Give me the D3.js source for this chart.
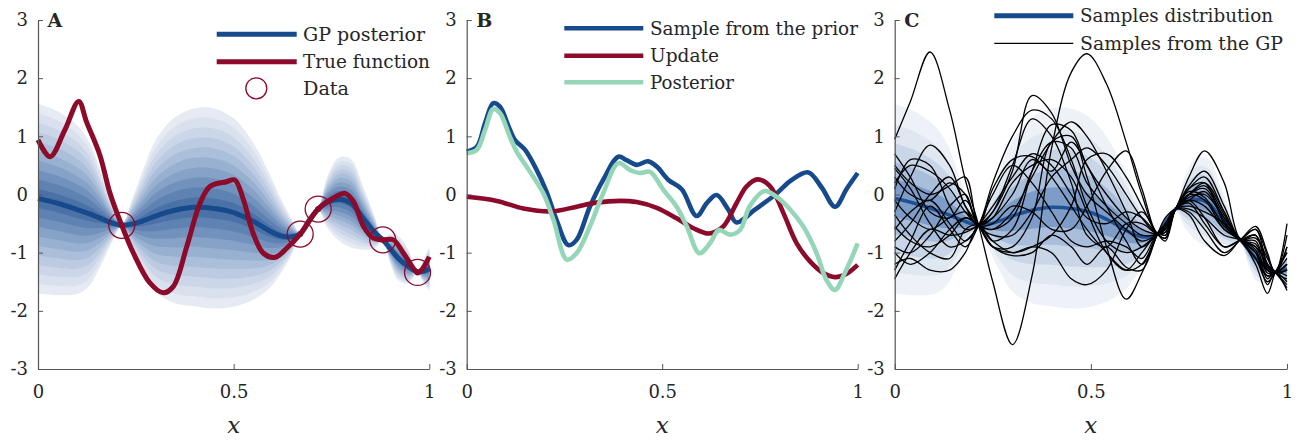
<!DOCTYPE html>
<html><head><meta charset="utf-8">
<script src="https://cdn.jsdelivr.net/npm/d3@7"></script>
<style>
body{margin:0;background:#fff}
svg{display:block}
svg text{font-family:"DejaVu Serif";}
</style>
</head><body>
<svg id="chart" width="1306" height="443"></svg>
<script>
// ---------------- DATA ----------------
const xTicks = [0, 0.5, 1];
const yTicks = [-3, -2, -1, 0, 1, 2, 3];
const panelLetters = ["A", "B", "C"];

// GP posterior (panels A and C)
const postX = [0, 0.05, 0.1, 0.13, 0.16, 0.19, 0.214, 0.24, 0.27, 0.3, 0.35, 0.4, 0.45, 0.5, 0.55, 0.59, 0.62, 0.645, 0.67, 0.69, 0.716, 0.74, 0.77, 0.8, 0.83, 0.86, 0.881, 0.9, 0.92, 0.945, 0.97, 0.985, 1.0];
const postMean = [-0.07, -0.15, -0.26, -0.33, -0.41, -0.49, -0.53, -0.51, -0.45, -0.37, -0.27, -0.22, -0.24, -0.31, -0.46, -0.62, -0.71, -0.73, -0.68, -0.48, -0.25, -0.13, -0.08, -0.15, -0.40, -0.65, -0.78, -0.93, -1.09, -1.23, -1.33, -1.32, -1.28];
const postSpread = [1.63, 1.58, 1.45, 1.25, 0.82, 0.32, 0.02, 0.42, 0.9, 1.3, 1.6, 1.7, 1.72, 1.62, 1.35, 1.0, 0.65, 0.35, 0.02, 0.12, 0.02, 0.45, 0.72, 0.76, 0.55, 0.28, 0.02, 0.25, 0.38, 0.3, 0.02, 0.2, 0.38];

// True function (panel A)
const trueX = [0, 0.031, 0.068, 0.104, 0.124, 0.158, 0.184, 0.214, 0.244, 0.286, 0.32, 0.346, 0.38, 0.414, 0.44, 0.482, 0.503, 0.525, 0.55, 0.576, 0.606, 0.636, 0.67, 0.716, 0.755, 0.785, 0.806, 0.832, 0.857, 0.881, 0.908, 0.934, 0.97, 0.98, 1.0];
const trueY = [0.94, 0.65, 1.1, 1.6, 1.25, 0.68, 0.02, -0.53, -1.01, -1.52, -1.69, -1.58, -0.9, -0.15, 0.14, 0.22, 0.25, -0.09, -0.67, -1.01, -1.08, -0.92, -0.68, -0.25, -0.06, 0.02, -0.12, -0.55, -0.75, -0.78, -0.78, -1.01, -1.34, -1.3, -1.07];

// Observations
const dataX = [0.214, 0.670, 0.716, 0.881, 0.970];
const dataY = [-0.53, -0.68, -0.25, -0.78, -1.34];

// Panel B
const priorX = [0, 0.026, 0.047, 0.068, 0.085, 0.107, 0.123, 0.149, 0.179, 0.204, 0.23, 0.26, 0.281, 0.315, 0.349, 0.388, 0.409, 0.435, 0.464, 0.486, 0.516, 0.55, 0.588, 0.614, 0.639, 0.669, 0.69, 0.737, 0.788, 0.831, 0.874, 0.908, 0.942, 0.972, 1.0];
const priorY = [0.74, 0.82, 1.23, 1.57, 1.51, 1.17, 0.94, 0.77, 0.42, 0.05, -0.44, -0.87, -0.78, -0.21, 0.25, 0.65, 0.59, 0.51, 0.57, 0.48, 0.25, 0.09, -0.37, -0.15, -0.01, -0.26, -0.48, -0.26, -0.01, 0.25, 0.38, 0.12, -0.21, 0.10, 0.37];
const updateX = [0, 0.077, 0.145, 0.217, 0.281, 0.332, 0.392, 0.435, 0.486, 0.537, 0.58, 0.62, 0.656, 0.69, 0.716, 0.744, 0.776, 0.81, 0.844, 0.878, 0.912, 0.942, 0.972, 1.0];
const updateY = [-0.04, -0.11, -0.24, -0.29, -0.21, -0.14, -0.11, -0.13, -0.23, -0.41, -0.58, -0.67, -0.55, -0.15, 0.14, 0.26, 0.14, -0.32, -0.84, -1.15, -1.35, -1.42, -1.36, -1.21];
const posteriorX = [0, 0.026, 0.047, 0.068, 0.085, 0.11, 0.13, 0.153, 0.196, 0.222, 0.256, 0.281, 0.315, 0.349, 0.388, 0.418, 0.443, 0.469, 0.503, 0.537, 0.563, 0.595, 0.622, 0.645, 0.673, 0.699, 0.724, 0.762, 0.793, 0.825, 0.861, 0.895, 0.92, 0.942, 0.967, 1.0];
const posteriorY = [0.71, 0.77, 1.11, 1.47, 1.40, 1.0, 0.71, 0.48, 0.02, -0.44, -1.12, -1.01, -0.55, 0.02, 0.54, 0.42, 0.37, 0.39, 0.08, -0.21, -0.55, -1.01, -0.84, -0.61, -0.69, -0.61, -0.2, 0.06, -0.04, -0.24, -0.55, -1.01, -1.47, -1.64, -1.35, -0.84];

// Panel C: samples from the GP posterior
const sampleX = [0, 0.04, 0.09, 0.14, 0.18, 0.214, 0.25, 0.30, 0.35, 0.40, 0.45, 0.49, 0.54, 0.59, 0.63, 0.67, 0.69, 0.716, 0.75, 0.79, 0.84, 0.881, 0.92, 0.95, 0.97, 1.0];
const sample01 = [0.95, 1.6, 2.45, 1.45, 0.25, -0.53, -1.5, -2.58, -1.4, 0.8, 2.1, 2.42, 1.9, 0.9, 0.0, -0.68, -0.55, -0.25, 0.0, 0.2, -0.3, -0.78, -0.7, -1.3, -1.34, -0.9];
const sample02 = [-0.3, 0.3, 0.85, 0.5, -0.2, -0.53, 0.1, 0.6, 0.65, 0.3, -0.2, -0.6, -1.0, -1.3, -1.2, -0.68, -0.5, -0.25, 0.0, 0.1, -0.4, -0.78, -1.1, -1.4, -1.34, -1.5];
const sample03 = [0.45, 0.1, -0.5, -0.9, -0.8, -0.53, 0.2, 1.0, 1.45, 1.3, 0.6, -0.2, -0.8, -1.0, -0.9, -0.68, -0.6, -0.25, -0.2, -0.3, -0.5, -0.78, -1.0, -1.3, -1.34, -1.2];
const sample04 = [-1.45, -1.0, -0.6, -0.7, -0.65, -0.53, -0.3, 0.4, 1.7, 1.4, 0.5, 0.0, -0.3, -0.6, -0.8, -0.68, -0.55, -0.25, 0.3, 0.75, 0.2, -0.78, -0.9, -1.2, -1.34, -0.5];
const sample05 = [-1.2, -1.1, -1.3, -1.3, -1.0, -0.53, -0.8, -1.0, -0.9, -0.7, -0.2, 0.6, 0.7, 0.3, -0.2, -0.68, -0.8, -0.25, 0.1, 0.2, -0.5, -0.78, -0.7, -1.2, -1.34, -1.6];
const sample06 = [0.2, 0.5, 0.4, 0.1, -0.3, -0.53, -0.6, -0.3, 0.3, 0.9, 1.25, 1.0, 0.4, -0.3, -0.9, -0.68, -0.6, -0.25, -0.1, -0.4, -0.9, -0.78, -0.6, -1.2, -1.34, -0.9];
const sample07 = [-0.8, -0.5, 0.0, 0.3, -0.2, -0.53, -0.9, -0.9, -0.4, 0.9, 1.0, 0.3, -0.9, -1.8, -1.35, -0.68, -0.4, -0.25, -0.3, -0.6, -1.0, -0.78, -0.55, -1.0, -1.34, -1.3];
const sample08 = [-0.1, -0.4, -0.6, -0.4, -0.3, -0.53, -0.4, 0.2, 0.5, 0.6, 0.3, -0.3, -1.0, -1.3, -1.0, -0.68, -0.7, -0.25, 0.0, -0.1, -0.6, -0.78, -1.2, -1.7, -1.34, -1.0];
const sample09 = [0.7, 0.3, -0.3, -0.4, -0.1, -0.53, -0.9, -1.0, -0.9, -1.0, -1.45, -1.55, -1.3, -0.6, -0.3, -0.68, -0.75, -0.25, -0.1, -0.2, -0.6, -0.78, -1.0, -1.55, -1.34, -1.4];
const sample10 = [-0.55, -0.8, -0.9, -0.7, -0.4, -0.53, -0.6, -0.4, 0.4, 0.9, 0.8, 0.2, -0.2, -0.5, -0.7, -0.68, -0.6, -0.25, 0.05, -0.05, -0.55, -0.78, -0.9, -1.35, -1.34, -1.2];
const sample11 = [0.3, 0.0, -0.1, 0.2, 0.0, -0.53, -0.3, 0.5, 1.3, 1.0, 0.2, -0.7, -0.9, -0.5, -0.5, -0.68, -0.65, -0.25, 0.1, 0.3, -0.3, -0.78, -0.8, -1.3, -1.34, -0.7];
const sample12 = [-0.9, -1.0, -0.7, -0.2, 0.0, -0.53, -0.5, -0.2, -0.3, -0.6, -0.6, -0.2, 0.4, 0.75, 0.1, -0.68, -0.6, -0.25, -0.15, -0.5, -0.9, -0.78, -0.7, -1.2, -1.34, -1.55];
const sample13 = [0.1, 0.6, 0.5, -0.2, -0.6, -0.53, -0.4, 0.0, 0.6, 0.4, 0.9, 0.5, -0.2, -0.8, -1.2, -0.68, -0.55, -0.25, -0.05, 0.0, -0.4, -0.78, -1.1, -1.5, -1.34, -1.0];
const sample14 = [-1.3, -0.8, -0.2, -0.6, -0.9, -0.53, 0.0, 0.5, 0.2, -0.3, -0.8, -0.9, -0.8, -0.9, -1.1, -0.68, -0.7, -0.25, -0.25, -0.4, -0.7, -0.78, -0.95, -1.45, -1.34, -1.65];
const sample15 = [-0.35, -0.7, -1.0, -1.1, -0.6, -0.53, -0.8, -0.6, 0.4, 1.2, 1.1, 0.5, 0.0, -0.4, -0.6, -0.68, -0.65, -0.25, 0.15, 0.4, -0.2, -0.78, -0.85, -1.25, -1.34, -1.3];
const sample16 = [0.5, 0.2, 0.0, 0.15, 0.3, -0.53, -0.7, -0.7, -0.3, 0.3, 0.6, 0.8, 0.5, 0.0, -0.4, -0.68, -0.6, -0.25, -0.1, 0.05, -0.45, -0.78, -0.75, -1.1, -1.34, -1.45];
const sample17 = [-0.6, -0.3, -0.1, -0.5, -0.8, -0.53, -0.2, 0.3, 0.7, 0.5, 0.0, -0.4, -0.5, -0.3, -0.4, -0.68, -0.75, -0.25, 0.0, 0.15, -0.35, -0.78, -1.0, -1.4, -1.34, -1.1];
const sample18 = [-1.0, -1.2, -1.0, -0.6, -0.4, -0.53, -0.9, -1.05, -1.0, -0.7, -0.9, -1.2, -0.9, -1.25, -1.3, -0.68, -0.5, -0.25, -0.35, -0.8, -1.05, -0.78, -0.6, -1.05, -1.34, -1.2];
const samplesC = [sample01, sample02, sample03, sample04, sample05, sample06, sample07, sample08, sample09, sample10, sample11, sample12, sample13, sample14, sample15, sample16, sample17, sample18];

// Legend labels
const legendA = ["GP posterior", "True function", "Data"];
const legendB = ["Sample from the prior", "Update", "Posterior"];
const legendC = ["Samples distribution", "Samples from the GP"];

// ---------------- STYLE / LAYOUT ----------------
const FONT = "DejaVu Serif";
const BLUE = "#174a8c", RED = "#8c0a2a", GREEN = "#96d6b8";
const bandColorsA = ["#e6ebf3","#d9e1ee","#cbd7e8","#bccbe1","#abbfda","#99b1d1","#86a2c7","#7292bd","#5e82b2","#4b72a7"];
const bandLevelsA = [1.0, 0.9, 0.8, 0.7, 0.6, 0.5, 0.4, 0.3, 0.2, 0.1];
const bandColorsC = ["#eef2f8","#dfe7f1","#c9d6e8","#a8bedb","#7d9dc8"];
const bandLevelsC = [1.0, 0.78, 0.58, 0.38, 0.2];
const panelRanges = [[38, 429.3], [466.7, 857.7], [894.7, 1287]];
const yTop = 20, yBot = 369;

const svg = d3.select("#chart");
const y = d3.scaleLinear().domain([-3, 3]).range([yBot, yTop]);
const xs = panelRanges.map(r => d3.scaleLinear().domain([0, 1]).range(r));
const curve = d3.curveCatmullRom.alpha(0.5);

function addText(x, yy, str, size) {
  return svg.append("text").attr("x", x).attr("y", yy).attr("font-size", size)
    .attr("font-family", FONT).attr("fill", "#262626").text(str);
}

function drawAxes(i) {
  const x = xs[i];
  const g = svg.append("g");
  g.append("g").attr("transform", `translate(${panelRanges[i][0]},0)`)
    .call(d3.axisLeft(y).tickValues(yTicks).tickFormat(d => String(d)).tickSize(-5).tickSizeOuter(0).tickPadding(10));
  g.append("g").attr("transform", `translate(0,${yBot})`)
    .call(d3.axisBottom(x).tickValues(xTicks).tickFormat(d => String(d)).tickSize(-5).tickSizeOuter(0).tickPadding(16));
  g.selectAll("g").attr("font-family", FONT).attr("font-size", 18);
  g.selectAll(".domain").attr("stroke", "#555").attr("stroke-width", 1.2);
  g.selectAll(".tick line").attr("stroke", "#555").attr("stroke-width", 1);
  g.selectAll(".tick text").attr("fill", "#262626");
  addText((panelRanges[i][0] + panelRanges[i][1]) / 2, 433, "x", 23)
    .attr("text-anchor", "middle").attr("font-style", "italic");
  addText(panelRanges[i][0] + 9.5, 27, panelLetters[i], 19).attr("font-weight", "bold");
}

function drawBands(x, levels, colors) {
  const pts = d3.range(postX.length);
  levels.forEach((k, j) => {
    const area = d3.area().curve(curve)
      .x(d => x(postX[d]))
      .y0(d => y(postMean[d] - k * postSpread[d]))
      .y1(d => y(postMean[d] + k * postSpread[d]));
    svg.append("path").attr("d", area(pts)).attr("fill", colors[j]).attr("stroke", "none");
  });
}

function lineOf(x, xv, yv) {
  return d3.line().curve(curve).x(d => x(d[0])).y(d => y(d[1]))(d3.zip(xv, yv));
}

// ---------- Panel A ----------
{
  const x = xs[0];
  drawBands(x, bandLevelsA, bandColorsA);
  svg.append("path").attr("d", lineOf(x, postX, postMean)).attr("fill", "none")
    .attr("stroke", BLUE).attr("stroke-width", 5);
  svg.append("path").attr("d", lineOf(x, trueX, trueY)).attr("fill", "none")
    .attr("stroke", RED).attr("stroke-width", 5).attr("stroke-linejoin", "round");
  const pts = d3.zip(dataX, dataY);
  svg.selectAll(".dot").data(pts).enter().append("circle")
    .attr("cx", d => x(d[0])).attr("cy", d => y(d[1])).attr("r", 3).attr("fill", RED);
  svg.selectAll(".obs").data(pts).enter().append("circle")
    .attr("cx", d => x(d[0])).attr("cy", d => y(d[1])).attr("r", 13)
    .attr("fill", "none").attr("stroke", RED).attr("stroke-width", 1.3);
  drawAxes(0);
  const ly = [34.3, 61.7, 88.3];
  svg.append("line").attr("x1", 216.7).attr("x2", 296.7).attr("y1", ly[0]).attr("y2", ly[0]).attr("stroke", BLUE).attr("stroke-width", 5);
  svg.append("line").attr("x1", 216.7).attr("x2", 296.7).attr("y1", ly[1]).attr("y2", ly[1]).attr("stroke", RED).attr("stroke-width", 5);
  svg.append("circle").attr("cx", 256.3).attr("cy", ly[2]).attr("r", 10.5).attr("fill", "none").attr("stroke", RED).attr("stroke-width", 1.3);
  const lens = [122, 127, 46];
  legendA.forEach((t, i) => addText(303, ly[i] + 6.5, t, 19)
    .attr("textLength", lens[i]).attr("lengthAdjust", "spacingAndGlyphs"));
}

// ---------- Panel B ----------
{
  const x = xs[1];
  svg.append("path").attr("d", lineOf(x, priorX, priorY)).attr("fill", "none").attr("stroke", BLUE).attr("stroke-width", 4.6);
  svg.append("path").attr("d", lineOf(x, updateX, updateY)).attr("fill", "none").attr("stroke", RED).attr("stroke-width", 4.6);
  svg.append("path").attr("d", lineOf(x, posteriorX, posteriorY)).attr("fill", "none").attr("stroke", GREEN).attr("stroke-width", 4.6);
  drawAxes(1);
  const ly = [28.3, 55.7, 82.3], cols = [BLUE, RED, GREEN], lens = [208, 69, 84];
  legendB.forEach((t, i) => {
    svg.append("line").attr("x1", 564.3).attr("x2", 643.3).attr("y1", ly[i]).attr("y2", ly[i]).attr("stroke", cols[i]).attr("stroke-width", 4.6);
    addText(650, ly[i] + 6.5, t, 19).attr("textLength", lens[i]).attr("lengthAdjust", "spacingAndGlyphs");
  });
}

// ---------- Panel C ----------
{
  const x = xs[2];
  drawBands(x, bandLevelsC, bandColorsC);
  svg.append("path").attr("d", lineOf(x, postX, postMean)).attr("fill", "none")
    .attr("stroke", "#1c5295").attr("stroke-width", 3.5);
  samplesC.forEach(s => {
    svg.append("path").attr("d", lineOf(x, sampleX, s)).attr("fill", "none")
      .attr("stroke", "#000").attr("stroke-width", 1.3);
  });
  drawAxes(2);
  const ly = [15.7, 43.3], lens = [193, 203];
  svg.append("line").attr("x1", 994.3).attr("x2", 1073.3).attr("y1", ly[0]).attr("y2", ly[0]).attr("stroke", BLUE).attr("stroke-width", 5);
  svg.append("line").attr("x1", 994.3).attr("x2", 1073.3).attr("y1", ly[1]).attr("y2", ly[1]).attr("stroke", "#000").attr("stroke-width", 1.3);
  legendC.forEach((t, i) => addText(1080, ly[i] + 6.5, t, 19)
    .attr("textLength", lens[i]).attr("lengthAdjust", "spacingAndGlyphs"));
}
</script>
</body></html>
